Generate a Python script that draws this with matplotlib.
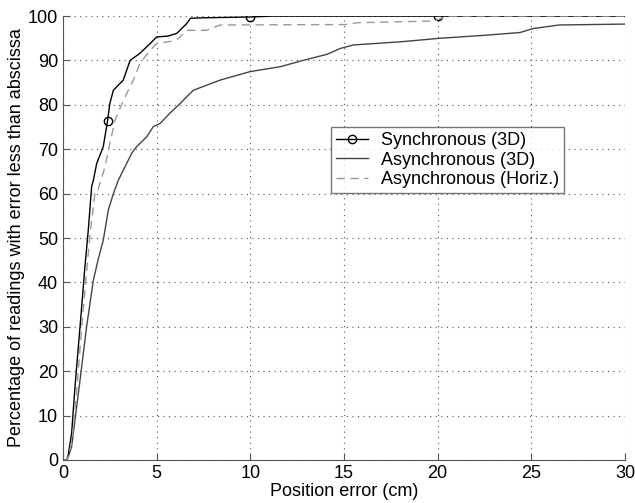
import matplotlib
matplotlib.use("Agg")
import matplotlib.pyplot as plt

plt.rcParams['font.family'] = ['Liberation Sans', 'DejaVu Sans']

# Synchronous (3D)
sync_x = [0, 0.2, 0.28, 0.46, 0.64, 0.91, 1.17, 1.35, 1.53, 1.62, 1.8, 2.15, 2.38, 2.5, 2.69,
          3.22, 3.58, 4.1, 4.65, 5.0, 5.6, 6.07, 6.6, 6.8, 7.3, 10, 11.2, 20, 30]
sync_y = [0, 0, 1.1, 6, 16.5, 30, 43.5, 51.8, 61.6, 63, 66.8, 70.6, 76.4, 80.3, 83.3,
          85.6, 90, 91.6, 93.8, 95.3, 95.5, 96.1, 98.3, 99.5, 99.6, 99.8, 100, 100, 100]
sync_marks = [12, 25, 27]

# Asynchronous (3D)
async_x = [0, 0.2, 0.28, 0.46, 0.64, 0.91, 1.26, 1.62, 1.89, 2.15, 2.42, 2.69, 2.95, 3.22,
           3.67, 3.93, 4.47, 4.82, 5.18, 5.7, 6.25, 6.6, 6.96, 8.4, 10, 11.6, 12.8, 14.1,
           14.8, 15.5, 18, 20.1, 22.6, 24.4, 25.1, 26.5, 30]
async_y = [0, 0, 0.7, 3, 9, 18, 30, 40.5, 45.4, 49.5, 56.3, 60, 63, 65.3,
           69.1, 70.6, 72.8, 75.1, 75.8, 78.1, 80.3, 81.8, 83.3, 85.6, 87.5, 88.6, 90, 91.4,
           92.7, 93.5, 94.2, 95, 95.7, 96.3, 97.2, 98, 98.2]

# Asynchronous (Horiz.)
horiz_x = [0, 0.2, 0.3, 0.5, 0.7, 1.0, 1.25, 1.45, 1.7, 1.8, 2.24, 2.5, 2.78, 3.22, 3.76,
           4.1, 4.65, 5.0, 6.0, 6.25, 6.6, 7.67, 8.4, 15.1, 15.7, 19.8, 20.5, 30]
horiz_y = [0, 0, 0.8, 5, 14, 30, 42, 51, 60, 60, 66, 71.3, 76.6, 81, 85.6,
           89.3, 92.3, 93.8, 94.5, 95.3, 96.8, 96.8, 98, 98.1, 98.5, 98.9, 100, 100]

fig = plt.figure(figsize=(6.35, 5.03), dpi=100)
ax = fig.add_axes([0.0992, 0.0855, 0.885, 0.8825])

ax.plot(sync_x, sync_y, color='black', lw=1.0, marker='o', markevery=sync_marks,
        markersize=6, markerfacecolor='none', markeredgewidth=1.0, label='Synchronous (3D)')
ax.plot(async_x, async_y, color='#444444', lw=1.0, label='Asynchronous (3D)')
ax.plot(horiz_x, horiz_y, color='#999999', lw=1.0, dashes=(6, 4), label='Asynchronous (Horiz.)')

ax.set_xlim(0, 30)
ax.set_ylim(0, 100)
ax.set_xticks(range(0, 31, 5))
ax.set_yticks(range(0, 101, 10))
ax.grid(True, linestyle=(0, (1, 4)), color='#555555', lw=0.8)
ax.spines['top'].set_visible(False)
ax.spines['right'].set_visible(False)
for s in ('left', 'bottom'):
    ax.spines[s].set_color('#555555')
ax.tick_params(direction='in', length=5, colors='#555555', labelcolor='black', labelsize=13)

ax.set_xlabel('Position error (cm)', fontsize=13, labelpad=1)
ax.set_ylabel('Percentage of readings with error less than abscissa', fontsize=13, labelpad=2)

leg = ax.legend(loc='upper left', bbox_to_anchor=(0.477, 0.75), fontsize=13, frameon=True,
                fancybox=False, edgecolor='#555555', handlelength=1.75, borderpad=0.3,
                labelspacing=0.12, handletextpad=0.7, borderaxespad=0)
leg.get_frame().set_linewidth(1.0)

fig.savefig('out.png', dpi=100)
